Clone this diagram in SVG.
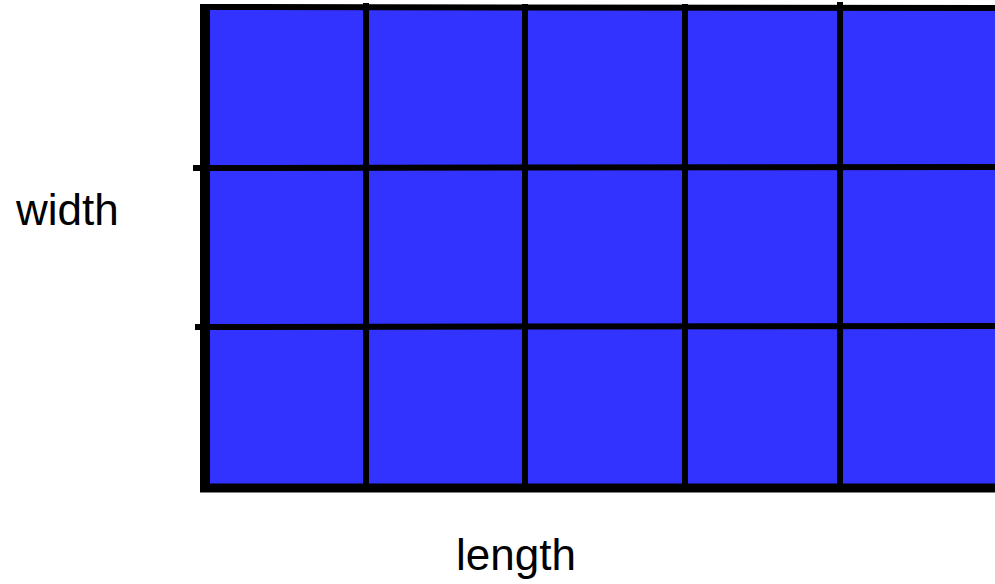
<svg xmlns="http://www.w3.org/2000/svg" width="995" height="584" viewBox="0 0 995 584">
<style>
.lbl{font-family:"Liberation Sans",Arial,sans-serif;font-size:44px;fill:#000}
.ln{stroke:#000;stroke-width:6;fill:none}
</style>
<rect width="995" height="584" fill="#fff"/>
<g id="grid">
<rect x="200" y="5" width="800" height="485" fill="#3333FF"/>
<line class="ln" x1="366" y1="3" x2="366" y2="490"/>
<line class="ln" x1="525" y1="4" x2="525" y2="490"/>
<line class="ln" x1="685" y1="4" x2="685" y2="490"/>
<line class="ln" x1="840" y1="2" x2="840" y2="490"/>
<line class="ln" x1="193" y1="168" x2="995" y2="167"/>
<line class="ln" x1="195" y1="327" x2="995" y2="326"/>
<line stroke="#000" stroke-width="6" x1="200" y1="7" x2="995" y2="8"/>
<line stroke="#000" stroke-width="9" x1="200" y1="488" x2="995" y2="488"/>
<line stroke="#000" stroke-width="10" x1="205" y1="4" x2="205" y2="492"/>
</g>
<g id="labels">
<text class="lbl" x="16" y="225">width</text>
<text class="lbl" x="456" y="570">length</text>
</g>
</svg>
